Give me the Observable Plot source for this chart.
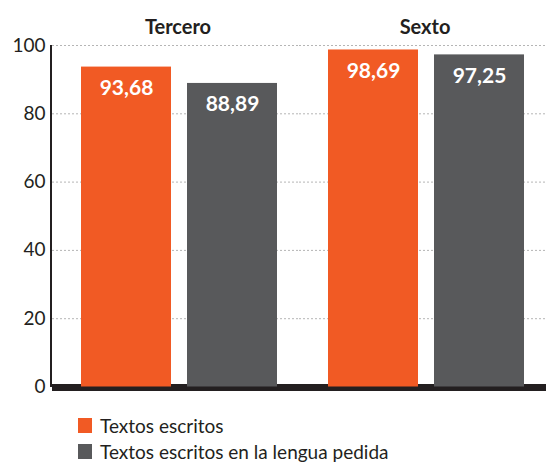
<!DOCTYPE html>
<html>
<head>
<meta charset="utf-8">
<script src="https://cdn.jsdelivr.net/npm/d3@7"></script>
<script src="https://cdn.jsdelivr.net/npm/@observablehq/plot@0.6"></script>
<style>
  html, body { margin: 0; padding: 0; background: #fff; }
  #chart { width: 546px; }
  #chart svg { display: block; }
  .legend { font-family: Lato, "Open Sans", sans-serif; font-size: 19px; color: #231f20; margin-left: 78px; margin-top: 12px; }
  .legend .row { display: flex; align-items: center; height: 26px; }
  .legend .sw { width: 14px; height: 15px; margin-right: 8px; }
</style>
</head>
<body>
<div id="chart"></div>
<script>
const groups = ["Tercero", "Sexto"];
const series = ["Textos escritos", "Textos escritos en la lengua pedida"];
const valuesTextos = [93.68, 98.69];
const valuesLengua = [88.89, 97.25];
const yTicks = [0, 20, 40, 60, 80, 100];
const colors = ["#f15a24", "#58595b"];

const data = [];
groups.forEach((g, i) => {
  data.push({group: g, series: series[0], value: valuesTextos[i]});
  data.push({group: g, series: series[1], value: valuesLengua[i]});
});
const fmt = d3.format(".2f");
const label = v => fmt(v).replace(".", ",");

const plot = Plot.plot({
  width: 546,
  height: 400,
  marginLeft: 51,
  marginRight: 0,
  marginTop: 45,
  marginBottom: 13.5,
  style: {fontFamily: "Lato, 'Open Sans', sans-serif", background: "#fff"},
  fx: {domain: groups, padding: 0, label: null},
  x: {domain: series, paddingInner: 0.15, paddingOuter: 0.231, align: 0.575, axis: null},
  y: {domain: [0, 100], ticks: yTicks, label: null},
  color: {domain: series, range: colors},
  marks: [
    Plot.gridY(yTicks.filter(t => t > 0), {stroke: "#b5b5b5", strokeOpacity: 1, strokeDasharray: "2,2", strokeWidth: 1}),
    Plot.ruleY([0], {stroke: "#231f20", strokeWidth: 7, dy: 0.5}),
    Plot.barY(data, {fx: "group", x: "series", y: "value", fill: "series"}),
    Plot.text(data, {fx: "group", x: "series", y: "value", text: d => label(d.value), dy: 21, fill: "white", fontSize: 21, fontWeight: "bold"}),
    Plot.axisY({ticks: yTicks, tickSize: 0, tickPadding: 7, fontSize: 19, fill: "#231f20", label: null}),
    Plot.axisFx({anchor: "top", tickSize: 0, tickPadding: 12, fontSize: 20, fontWeight: "bold", fill: "#231f20", label: null, dx: 2})
  ]
});

document.getElementById("chart").appendChild(plot);
// vertical axis line
const svg = d3.select(plot);
svg.append("line")
  .attr("x1", 51).attr("x2", 51)
  .attr("y1", 45).attr("y2", 387)
  .attr("stroke", "#231f20").attr("stroke-width", 2);

const legend = d3.select("#chart").append("div").attr("class", "legend");
series.forEach((s, i) => {
  const row = legend.append("div").attr("class", "row");
  row.append("div").attr("class", "sw").style("background", colors[i]);
  row.append("span").text(s);
});
</script>
</body>
</html>
